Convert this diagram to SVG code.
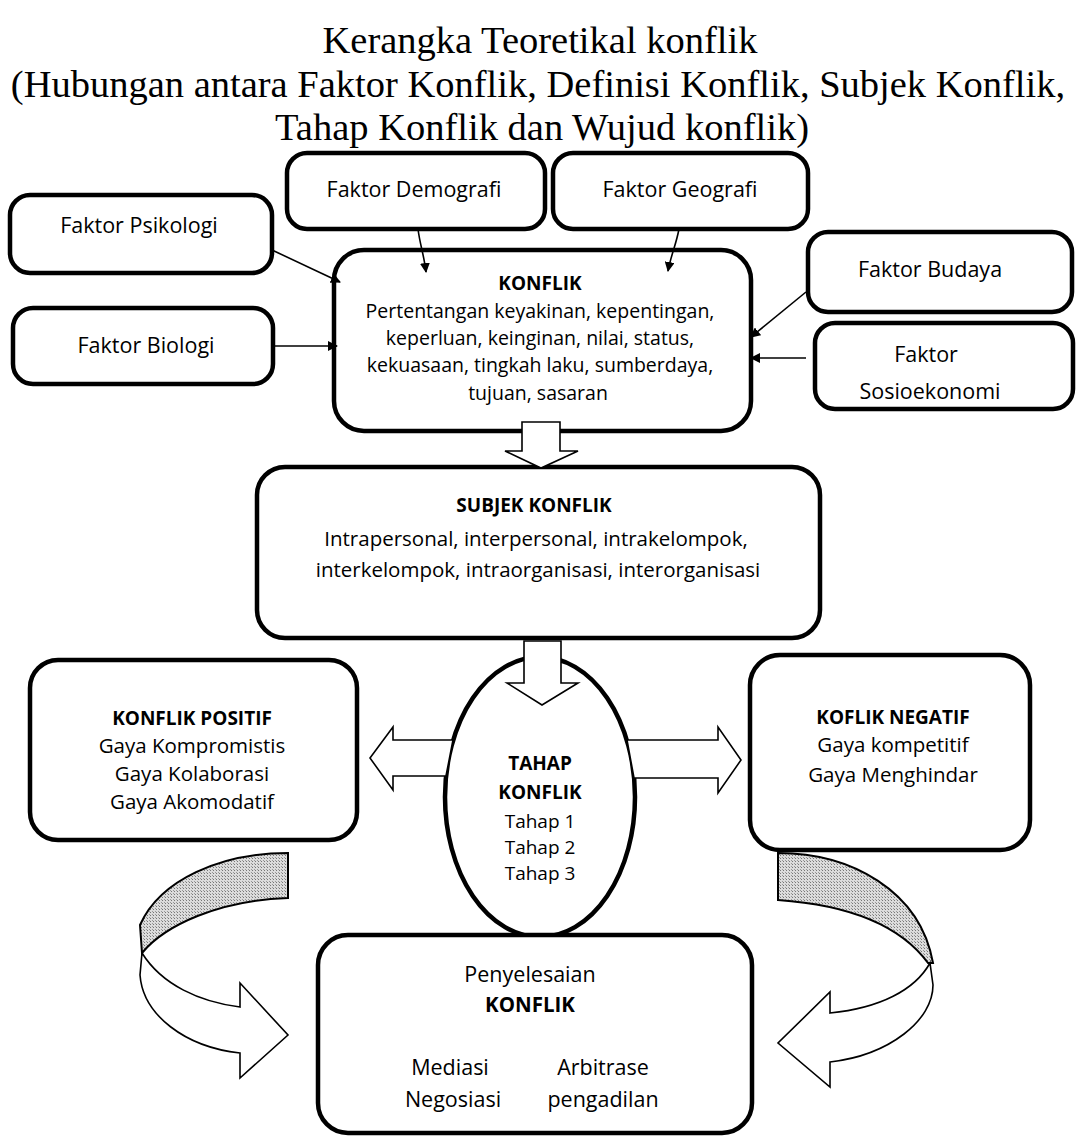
<svg xmlns="http://www.w3.org/2000/svg" width="1076" height="1140" viewBox="0 0 1076 1140">
<style>
.box{fill:#fff;stroke:#000;stroke-width:4.5}
.title{font-family:"Liberation Serif","Times New Roman",serif;font-size:38.5px;fill:#000;text-anchor:middle}
.t{font-family:"Open Sans","Liberation Sans",sans-serif;font-size:20.5px;fill:#000;text-anchor:middle}
.s{font-size:19.5px}
.f{font-family:"Open Sans","Liberation Sans",sans-serif;font-size:21.5px;fill:#000;text-anchor:middle}
.b{font-weight:bold;font-size:19px}
.th{font-size:19px}
.ln{stroke:#000;stroke-width:1.6;fill:none}
.blk{fill:#fff;stroke:#000;stroke-width:1.6;stroke-linejoin:miter}
.shade{fill:url(#dots);stroke:#000;stroke-width:2}
</style>
<defs>
<marker id="ah" markerWidth="10" markerHeight="10" refX="9" refY="5" orient="auto" markerUnits="userSpaceOnUse">
<path d="M0,0 L10,5 L0,10 Z" fill="#000"/>
</marker>
<pattern id="dots" width="3" height="3" patternUnits="userSpaceOnUse">
<rect width="3" height="3" fill="#dcdcdc"/>
<rect width="1" height="1" fill="#777"/>
<rect x="2" y="2" width="1" height="1" fill="#999"/>
</pattern>
</defs>
<rect width="1076" height="1140" fill="#fff"/>
<g id="title">
<text class="title" x="540" y="53">Kerangka Teoretikal konflik</text>
<text class="title" x="538" y="97">(Hubungan antara Faktor Konflik, Definisi Konflik, Subjek Konflik,</text>
<text class="title" x="542" y="140">Tahap Konflik dan Wujud konflik)</text>
</g>
<g id="demografi"><rect class="box" x="287" y="153" width="258" height="76" rx="20"/><text class="f" x="414" y="197">Faktor Demografi</text></g>
<g id="geografi"><rect class="box" x="553" y="153" width="255" height="76" rx="20"/><text class="f" x="680" y="197">Faktor Geografi</text></g>
<g id="psikologi"><rect class="box" x="10" y="195" width="262" height="78" rx="20"/><text class="f" x="139" y="233">Faktor Psikologi</text></g>
<g id="biologi"><rect class="box" x="13" y="308" width="260" height="76" rx="20"/><text class="f" x="146" y="353">Faktor Biologi</text></g>
<g id="konflik"><rect class="box" x="334" y="250" width="417" height="181" rx="30"/>
<text class="t b" x="540" y="290">KONFLIK</text>
<text class="t s" x="540" y="318">Pertentangan keyakinan, kepentingan,</text>
<text class="t s" x="540" y="345">keperluan, keinginan, nilai, status,</text>
<text class="t s" x="540" y="372">kekuasaan, tingkah laku, sumberdaya,</text>
<text class="t s" x="538" y="400">tujuan, sasaran</text></g>
<g id="budaya"><rect class="box" x="808" y="232" width="264" height="80" rx="20"/><text class="f" x="930" y="277">Faktor Budaya</text></g>
<g id="sosioekonomi"><rect class="box" x="815" y="323" width="258" height="86" rx="20"/><text class="f" x="926" y="362">Faktor</text><text class="f" x="930" y="399">Sosioekonomi</text></g>
<g id="subjek"><rect class="box" x="257" y="467" width="563" height="171" rx="28"/>
<text class="t b" x="534" y="512">SUBJEK KONFLIK</text>
<text class="t" x="536" y="546">Intrapersonal, interpersonal, intrakelompok,</text>
<text class="t" x="538" y="577">interkelompok, intraorganisasi, interorganisasi</text></g>
<g id="positif"><rect class="box" x="30" y="660" width="327" height="180" rx="28"/>
<text class="t b" x="192" y="725">KONFLIK POSITIF</text>
<text class="t" x="192" y="753">Gaya Kompromistis</text>
<text class="t" x="192" y="781">Gaya Kolaborasi</text>
<text class="t" x="192" y="809">Gaya Akomodatif</text></g>
<g id="negatif"><rect class="box" x="750" y="655" width="280" height="195" rx="30"/>
<text class="t b" x="893" y="724">KOFLIK NEGATIF</text>
<text class="t" x="893" y="752">Gaya kompetitif</text>
<text class="t" x="893" y="782">Gaya Menghindar</text></g>
<g id="tahap"><ellipse class="box" cx="540" cy="797" rx="95" ry="140"/>
<text class="t b" x="540" y="770">TAHAP</text>
<text class="t b" x="540" y="799">KONFLIK</text>
<text class="t th" x="540" y="828">Tahap 1</text>
<text class="t th" x="540" y="854">Tahap 2</text>
<text class="t th" x="540" y="880">Tahap 3</text></g>
<g id="penyelesaian"><rect class="box" x="318" y="935" width="434" height="198" rx="30"/>
<text class="t" x="530" y="982" style="font-size:21.5px">Penyelesaian</text>
<text class="t b" x="530" y="1012" style="font-size:20.5px">KONFLIK</text>
<text class="t" x="450" y="1075" style="font-size:21.5px">Mediasi</text>
<text class="t" x="603" y="1075" style="font-size:21.5px">Arbitrase</text>
<text class="t" x="453" y="1107" style="font-size:21.5px">Negosiasi</text>
<text class="t" x="603" y="1107" style="font-size:21.5px">pengadilan</text></g>
<g id="connectors">
<line class="ln" x1="272" y1="250" x2="340" y2="282" marker-end="url(#ah)"/>
<line class="ln" x1="273" y1="346" x2="337" y2="346" marker-end="url(#ah)"/>
<path class="ln" d="M418,229 C420,245 424,255 426,272" marker-end="url(#ah)"/>
<path class="ln" d="M679,229 C676,245 671,255 668,271" marker-end="url(#ah)"/>
<line class="ln" x1="806" y1="292" x2="751" y2="337" marker-end="url(#ah)"/>
<line class="ln" x1="806" y1="358" x2="751" y2="358" marker-end="url(#ah)"/>
<polygon class="blk" points="522,422 560,422 560,451 578,451 541,468 505,451 522,451"/>
<polygon class="blk" points="524,641 561,641 561,683 578,683 542,705 507,683 524,683"/>
<polygon class="blk" points="453,740 393,740 393,727 370,758 393,790 393,776 446,776"/>
<polygon class="blk" points="627,740 718,740 718,727 741,760 718,793 718,778 634,778"/>
<path class="shade" d="M288,853 C220,853 160,880 140,925 L142,953 C165,925 220,900 288,898 Z"/>
<path class="blk" d="M142,953 C162,985 200,1002 240,1007 L240,983 L288,1035 L240,1078 L240,1053 C185,1047 143,1015 140,975 Z"/>
<path class="shade" d="M778,853 C850,853 920,890 933,963 L928,963 C900,925 850,905 778,900 Z"/>
<path class="blk" d="M930,963 C915,990 880,1008 830,1013 L830,992 L778,1043 L830,1087 L830,1062 C890,1055 933,1020 933,985 Z"/>
</g>
</svg>
